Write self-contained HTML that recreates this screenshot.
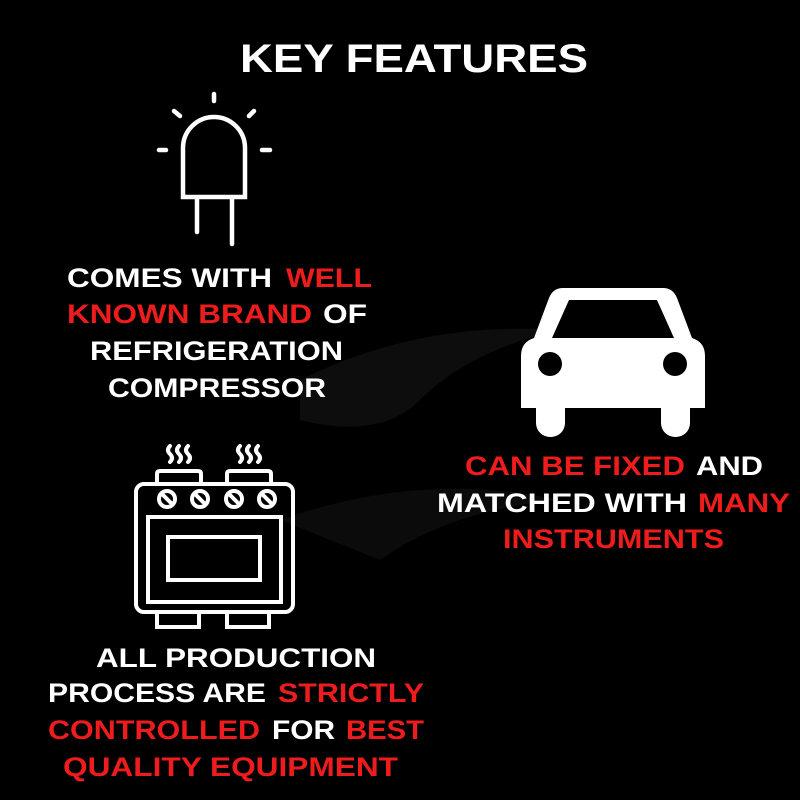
<!DOCTYPE html>
<html><head><meta charset="utf-8"><style>
html,body{margin:0;padding:0;background:#000;}
svg{display:block}
text{font-family:"Liberation Sans",sans-serif;font-weight:bold;fill:#fff;font-size:27px;}
.r{fill:#ee1c1c}
</style></head><body>
<svg width="800" height="800" viewBox="0 0 800 800">
<rect width="800" height="800" fill="#000"/>
<path d="M300 380 Q420 320 560 330 Q470 350 420 400 Q380 440 300 420 Z" fill="#151515" opacity="0.6"/>
<path d="M280 520 Q420 470 560 500 Q450 510 380 560 Z" fill="#121212" opacity="0.6"/>
<text x="240" y="72" style="font-size:40px" textLength="348" lengthAdjust="spacingAndGlyphs">KEY FEATURES</text>

<g fill="none" stroke="#fff" stroke-width="4.5" stroke-linecap="round">
<path d="M183 197 V148 A31 31 0 0 1 245 148 V197 Z"/>
<line x1="197" y1="199" x2="197" y2="232"/>
<line x1="232" y1="199" x2="232" y2="244"/>
<line x1="214" y1="94" x2="214" y2="101"/>
<line x1="174" y1="111" x2="180" y2="116"/>
<line x1="254" y1="111" x2="249" y2="116"/>
<line x1="159" y1="150" x2="166" y2="150"/>
<line x1="262" y1="150" x2="270" y2="150"/>
</g>

<text y="287"><tspan x="67" textLength="205" lengthAdjust="spacingAndGlyphs">COMES WITH</tspan><tspan class="r" x="286" textLength="86" lengthAdjust="spacingAndGlyphs">WELL</tspan></text>
<text y="323"><tspan class="r" x="67" textLength="245" lengthAdjust="spacingAndGlyphs">KNOWN BRAND</tspan><tspan x="323" textLength="44" lengthAdjust="spacingAndGlyphs">OF</tspan></text>
<text x="90" y="360" textLength="253" lengthAdjust="spacingAndGlyphs">REFRIGERATION</text>
<text x="108" y="397" textLength="218" lengthAdjust="spacingAndGlyphs">COMPRESSOR</text>

<g fill="#fff">
<path d="M563 288 H663 Q673 288 677 298 L692 338 Q705 342 705 356 V408 H521 V356 Q521 342 534 338 L549 298 Q553 288 563 288 Z"/>
<rect x="536" y="395" width="29" height="42" rx="14"/>
<rect x="661" y="395" width="29" height="42" rx="14"/>
</g>
<path d="M569 300 H657 L674 338 H552 Z" fill="#000"/>
<circle cx="550" cy="364" r="12" fill="#000"/>
<circle cx="675" cy="364" r="12" fill="#000"/>

<text y="475"><tspan class="r" x="465" textLength="220" lengthAdjust="spacingAndGlyphs">CAN BE FIXED</tspan><tspan x="696" textLength="67" lengthAdjust="spacingAndGlyphs">AND</tspan></text>
<text y="512"><tspan x="437" textLength="250" lengthAdjust="spacingAndGlyphs">MATCHED WITH</tspan><tspan class="r" x="698" textLength="92" lengthAdjust="spacingAndGlyphs">MANY</tspan></text>
<text class="r" x="503" y="548" textLength="221" lengthAdjust="spacingAndGlyphs">INSTRUMENTS</text>

<g fill="none" stroke="#fff" stroke-width="4" stroke-linecap="round">
<path d="M170 446 q-4 4 0 8 q4 4 0 8 M179 446 q-4 4 0 8 q4 4 0 8 M188 446 q-4 4 0 8 q4 4 0 8"/>
<path d="M240 446 q-4 4 0 8 q4 4 0 8 M249 446 q-4 4 0 8 q4 4 0 8 M258 446 q-4 4 0 8 q4 4 0 8"/>
<path d="M157 484 V474 q0-3 3-3 H198 q3 0 3 3 V484"/>
<path d="M227 484 V474 q0-3 3-3 H268 q3 0 3 3 V484"/>
<rect x="136" y="484" width="157" height="128" rx="8"/>
<rect x="148" y="517" width="133" height="85"/>
<rect x="168" y="537" width="92" height="43"/>
<path d="M157 612 V627 H199 V612 M227 612 V627 H269 V612"/>
<circle cx="167" cy="499" r="8"/><circle cx="200" cy="499" r="8"/><circle cx="234" cy="499" r="8"/><circle cx="267" cy="499" r="8"/>
<path d="M163 495 l8 8 M196 495 l8 8 M230 495 l8 8 M263 495 l8 8"/>
</g>

<text x="96" y="667" textLength="280" lengthAdjust="spacingAndGlyphs">ALL PRODUCTION</text>
<text y="702"><tspan x="48" textLength="218" lengthAdjust="spacingAndGlyphs">PROCESS ARE</tspan><tspan class="r" x="278" textLength="146" lengthAdjust="spacingAndGlyphs">STRICTLY</tspan></text>
<text y="739"><tspan class="r" x="48" textLength="212" lengthAdjust="spacingAndGlyphs">CONTROLLED</tspan><tspan x="272" textLength="63" lengthAdjust="spacingAndGlyphs">FOR</tspan><tspan class="r" x="346" textLength="78" lengthAdjust="spacingAndGlyphs">BEST</tspan></text>
<text class="r" x="63" y="776" textLength="335" lengthAdjust="spacingAndGlyphs">QUALITY EQUIPMENT</text>
</svg>
</body></html>
